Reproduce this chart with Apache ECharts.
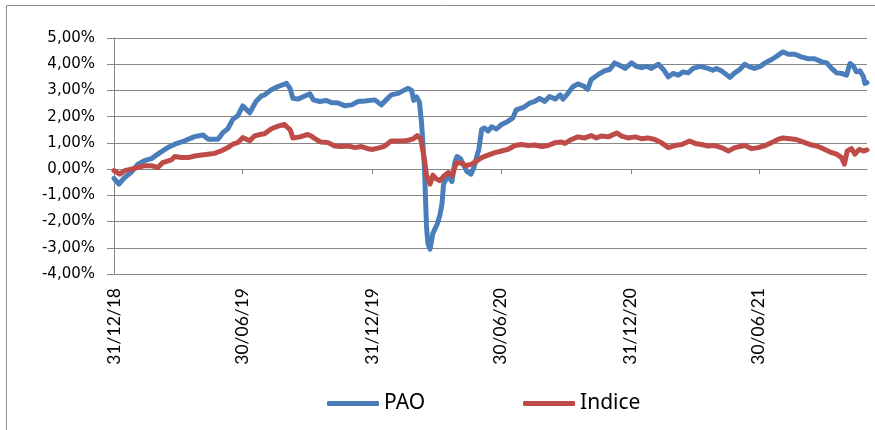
<!DOCTYPE html>
<html>
<head>
<meta charset="utf-8">
<script src="https://cdn.jsdelivr.net/npm/echarts@6/dist/echarts.min.js"></script>
<style>
  html, body { margin: 0; padding: 0; background: #fff; }
  #chart { width: 875px; height: 430px; }
</style>
</head>
<body>
<div id="chart"></div>
<script>
// PAO vs Indice, cumulative performance (%)
const paoDates = [
  '2018-12-31', '2019-01-07', '2019-01-15', '2019-01-24', '2019-02-03', '2019-02-12', '2019-02-22', '2019-03-06', '2019-03-17', '2019-03-27',
  '2019-04-10', '2019-04-24', '2019-05-06', '2019-05-13', '2019-05-27', '2019-06-03', '2019-06-10', '2019-06-17', '2019-06-24', '2019-07-01',
  '2019-07-11', '2019-07-20', '2019-07-27', '2019-08-01', '2019-08-10', '2019-08-20', '2019-09-01', '2019-09-06', '2019-09-10', '2019-09-17',
  '2019-09-27', '2019-10-04', '2019-10-09', '2019-10-18', '2019-10-27', '2019-11-03', '2019-11-13', '2019-11-22', '2019-12-02', '2019-12-11',
  '2019-12-21', '2020-01-04', '2020-01-13', '2020-01-20', '2020-01-27', '2020-02-06', '2020-02-15', '2020-02-20', '2020-02-25', '2020-02-28',
  '2020-03-03', '2020-03-07', '2020-03-10', '2020-03-14', '2020-03-17', '2020-03-19', '2020-03-22', '2020-03-26', '2020-04-01', '2020-04-05',
  '2020-04-08', '2020-04-10', '2020-04-14', '2020-04-17', '2020-04-22', '2020-04-26', '2020-04-29', '2020-05-04', '2020-05-08', '2020-05-13',
  '2020-05-19', '2020-05-23', '2020-05-27', '2020-05-30', '2020-06-03', '2020-06-07', '2020-06-12', '2020-06-17', '2020-06-24', '2020-07-01',
  '2020-07-10', '2020-07-17', '2020-07-22', '2020-08-01', '2020-08-10', '2020-08-17', '2020-08-24', '2020-08-31', '2020-09-07', '2020-09-15',
  '2020-09-22', '2020-09-26', '2020-10-03', '2020-10-10', '2020-10-17', '2020-10-25', '2020-10-31', '2020-11-05', '2020-11-15', '2020-11-24',
  '2020-12-01', '2020-12-08', '2020-12-15', '2020-12-23', '2021-01-01', '2021-01-08', '2021-01-15', '2021-01-22', '2021-01-29', '2021-02-08',
  '2021-02-15', '2021-02-22', '2021-03-01', '2021-03-08', '2021-03-15', '2021-03-22', '2021-03-29', '2021-04-08', '2021-04-15', '2021-04-19',
  '2021-04-26', '2021-05-01', '2021-05-08', '2021-05-13', '2021-05-20', '2021-05-27', '2021-06-03', '2021-06-10', '2021-06-17', '2021-06-24',
  '2021-07-02', '2021-07-09', '2021-07-18', '2021-07-25', '2021-08-03', '2021-08-11', '2021-08-20', '2021-08-29', '2021-09-08', '2021-09-17',
  '2021-09-27', '2021-10-04', '2021-10-11', '2021-10-18', '2021-10-25', '2021-11-01', '2021-11-06', '2021-11-11', '2021-11-15', '2021-11-20',
  '2021-11-25', '2021-11-27', '2021-11-30'
]
const paoValues = [
  -0.35, -0.57, -0.32, -0.13, 0.19, 0.32, 0.40, 0.63, 0.82, 0.95,
  1.08, 1.24, 1.30, 1.14, 1.14, 1.39, 1.54, 1.90, 2.03, 2.41,
  2.15, 2.59, 2.78, 2.83, 3.02, 3.15, 3.27, 3.08, 2.70, 2.67,
  2.79, 2.87, 2.64, 2.58, 2.62, 2.54, 2.52, 2.42, 2.45, 2.58,
  2.60, 2.64, 2.45, 2.64, 2.83, 2.89, 3.02, 3.08, 3.00, 2.62,
  2.75, 2.55, 1.76, 0.10, -2.20, -2.85, -3.05, -2.45, -2.10, -1.75,
  -1.30, -0.60, -0.35, -0.28, -0.47, 0.25, 0.48, 0.40, 0.19, -0.09,
  -0.19, 0.06, 0.48, 0.75, 1.51, 1.57, 1.45, 1.61, 1.53, 1.70,
  1.82, 1.95, 2.26, 2.35, 2.52, 2.58, 2.70, 2.58, 2.77, 2.67,
  2.83, 2.67, 2.89, 3.14, 3.25, 3.17, 3.04, 3.42, 3.61, 3.75,
  3.80, 4.05, 3.96, 3.84, 4.05, 3.92, 3.87, 3.92, 3.84, 4.00,
  3.80, 3.52, 3.65, 3.58, 3.71, 3.67, 3.84, 3.92, 3.87, 3.84,
  3.77, 3.84, 3.75, 3.65, 3.50, 3.67, 3.80, 4.00, 3.90, 3.84,
  3.92, 4.05, 4.18, 4.30, 4.47, 4.38, 4.38, 4.28, 4.21, 4.21,
  4.09, 4.05, 3.84, 3.67, 3.65, 3.58, 4.03, 3.92, 3.71, 3.75,
  3.52, 3.27, 3.30
]
const indiceDates = [
  '2018-12-31', '2019-01-08', '2019-01-15', '2019-01-24', '2019-02-03', '2019-02-12', '2019-02-22', '2019-03-03', '2019-03-10', '2019-03-22',
  '2019-03-27', '2019-04-05', '2019-04-15', '2019-04-24', '2019-05-04', '2019-05-13', '2019-05-22', '2019-06-01', '2019-06-10', '2019-06-17',
  '2019-06-24', '2019-07-01', '2019-07-11', '2019-07-18', '2019-07-27', '2019-08-01', '2019-08-10', '2019-08-20', '2019-08-29', '2019-09-06',
  '2019-09-10', '2019-09-20', '2019-10-01', '2019-10-06', '2019-10-13', '2019-10-20', '2019-10-30', '2019-11-08', '2019-11-18', '2019-11-27',
  '2019-12-07', '2019-12-16', '2019-12-25', '2020-01-01', '2020-01-11', '2020-01-18', '2020-01-27', '2020-02-06', '2020-02-15', '2020-02-20',
  '2020-02-27', '2020-03-04', '2020-03-09', '2020-03-14', '2020-03-17', '2020-03-22', '2020-03-26', '2020-03-31', '2020-04-05', '2020-04-11',
  '2020-04-17', '2020-04-22', '2020-04-28', '2020-05-05', '2020-05-12', '2020-05-20', '2020-05-27', '2020-06-03', '2020-06-12', '2020-06-22',
  '2020-07-01', '2020-07-10', '2020-07-20', '2020-07-29', '2020-08-08', '2020-08-17', '2020-08-27', '2020-09-05', '2020-09-15', '2020-09-24',
  '2020-09-29', '2020-10-08', '2020-10-17', '2020-10-27', '2020-11-05', '2020-11-12', '2020-11-19', '2020-11-29', '2020-12-11', '2020-12-18',
  '2020-12-27', '2021-01-06', '2021-01-15', '2021-01-24', '2021-02-03', '2021-02-12', '2021-02-22', '2021-03-03', '2021-03-13', '2021-03-24',
  '2021-04-01', '2021-04-10', '2021-04-19', '2021-04-29', '2021-05-08', '2021-05-18', '2021-05-27', '2021-06-10', '2021-06-20', '2021-06-29',
  '2021-07-09', '2021-07-18', '2021-07-27', '2021-08-03', '2021-08-13', '2021-08-22', '2021-09-01', '2021-09-10', '2021-09-20', '2021-09-29',
  '2021-10-09', '2021-10-18', '2021-10-25', '2021-10-29', '2021-11-02', '2021-11-08', '2021-11-13', '2021-11-19', '2021-11-25', '2021-11-30'
]
const indiceValues = [
  -0.06, -0.19, -0.06, 0.00, 0.06, 0.13, 0.13, 0.06, 0.25, 0.35,
  0.48, 0.44, 0.44, 0.50, 0.54, 0.57, 0.60, 0.70, 0.82, 0.95,
  1.01, 1.20, 1.08, 1.27, 1.33, 1.35, 1.53, 1.64, 1.70, 1.51,
  1.19, 1.23, 1.32, 1.26, 1.13, 1.03, 1.01, 0.88, 0.86, 0.88,
  0.82, 0.86, 0.78, 0.75, 0.82, 0.88, 1.07, 1.07, 1.08, 1.10,
  1.15, 1.28, 1.13, 0.38, -0.25, -0.57, -0.23, -0.38, -0.44, -0.25,
  -0.13, -0.25, 0.23, 0.23, 0.13, 0.19, 0.31, 0.44, 0.53, 0.63,
  0.69, 0.75, 0.90, 0.94, 0.90, 0.92, 0.86, 0.90, 1.01, 1.03,
  0.98, 1.13, 1.23, 1.19, 1.28, 1.19, 1.26, 1.23, 1.38, 1.26,
  1.19, 1.23, 1.16, 1.19, 1.13, 1.01, 0.82, 0.90, 0.94, 1.07,
  0.98, 0.94, 0.88, 0.90, 0.82, 0.69, 0.82, 0.90, 0.78, 0.82,
  0.90, 1.01, 1.13, 1.19, 1.16, 1.13, 1.03, 0.94, 0.88, 0.78,
  0.65, 0.57, 0.44, 0.19, 0.69, 0.78, 0.57, 0.75, 0.69, 0.73
]
// x axis tick dates (labels shown as dd/mm/yy)
const tickDates = ['2018-12-31', '2019-06-30', '2019-12-31', '2020-06-30', '2020-12-31', '2021-06-30']
const startDate = '2018-12-31'
const endDate = '2021-11-30'

const GRID_COLOR = '#868686'

function toTime( s ) {
  const p = s.split( '-' )
  return new Date( +p[0], +p[1] - 1, +p[2] ).getTime()
}
function fmtDate( t ) {
  const d = new Date( t )
  const dd = String( d.getDate() ).padStart( 2, '0' )
  const mm = String( d.getMonth() + 1 ).padStart( 2, '0' )
  const yy = String( d.getFullYear() % 100 ).padStart( 2, '0' )
  return dd + '/' + mm + '/' + yy
}
function pairs( dates, values ) {
  return dates.map( ( d, i ) => [toTime( d ), values[i]] )
}

const ticks = tickDates.map( toTime )
const chart = echarts.init( document.getElementById( 'chart' ), null, { renderer : 'canvas' } )

chart.setOption( {
  animation : false,
  backgroundColor : '#ffffff',
  graphic : [
    {
      type : 'rect',
      shape : { x : 6.5, y : 5.5, width : 900, height : 460 },
      style : { fill : 'none', stroke : '#8c8c8c', lineWidth : 1 },
      silent : true,
      z : -1
    }
  ],
  grid : {
    left : 114,
    right : 8,
    top : 38,
    bottom : 156
  },
  legend : {
    data : ['PAO', 'Indice'],
    left : 322,
    top : 388,
    icon : 'roundRect',
    itemWidth : 52,
    itemHeight : 5,
    itemGap : 98,
    textStyle : {
      fontFamily : 'Noto Sans',
      fontSize : 21,
      color : '#000'
    }
  },
  xAxis : [
    {
      // labels along the bottom
      type : 'value',
      position : 'bottom',
      min : toTime( startDate ),
      max : toTime( endDate ),
      axisLine : { show : false, onZero : false },
      axisTick : { show : false },
      splitLine : { show : false },
      axisLabel : {
        customValues : ticks,
        rotate : 90,
        margin : 14,
        fontFamily : 'Lato',
        fontSize : 17.5,
        color : '#000',
        formatter : ( v ) => fmtDate( v )
      }
    },
    {
      // axis line crossing at 0 with tick marks
      type : 'value',
      position : 'top',
      min : toTime( startDate ),
      max : toTime( endDate ),
      axisLine : { show : true, onZero : true, lineStyle : { color : GRID_COLOR, width : 1 } },
      axisTick : {
        show : true,
        inside : true,
        length : 5,
        customValues : ticks,
        lineStyle : { color : GRID_COLOR, width : 1 }
      },
      splitLine : { show : false },
      axisLabel : { show : false }
    }
  ],
  yAxis : {
    type : 'value',
    min : -4,
    max : 5,
    interval : 1,
    axisLine : { show : true, lineStyle : { color : GRID_COLOR, width : 1 } },
    axisTick : { show : true, length : 7, lineStyle : { color : GRID_COLOR, width : 1 } },
    splitLine : { show : true, lineStyle : { color : GRID_COLOR, width : 1 } },
    axisLabel : {
      margin : 19,
      fontFamily : 'DejaVu Sans',
      fontSize : 15,
      color : '#000',
      formatter : ( v ) => v.toFixed( 2 ).replace( '.', ',' ) + '%'
    }
  },
  series : [
    {
      name : 'PAO',
      type : 'line',
      xAxisIndex : 0,
      showSymbol : false,
      symbol : 'none',
      smooth : false,
      itemStyle : { color : '#4a7ebb' },
      lineStyle : { color : '#4a7ebb', width : 5, cap : 'round', join : 'round' },
      data : pairs( paoDates, paoValues )
    },
    {
      name : 'Indice',
      type : 'line',
      xAxisIndex : 0,
      showSymbol : false,
      symbol : 'none',
      smooth : false,
      itemStyle : { color : '#be4b48' },
      lineStyle : { color : '#be4b48', width : 5, cap : 'round', join : 'round' },
      data : pairs( indiceDates, indiceValues )
    }
  ]
} )
</script>
</body>
</html>
